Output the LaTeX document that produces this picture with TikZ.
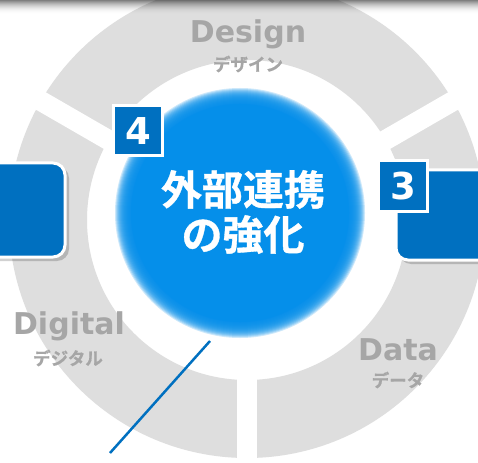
\documentclass[tikz,border=0pt]{standalone}
\usepackage{fontspec}
\setmainfont{DejaVu Sans}
\newfontfamily\cjk{Noto Sans CJK JP}[BoldFont={Noto Sans CJK JP Bold}, BoldFeatures={FakeBold=0.8}]
\definecolor{ringgray}{HTML}{DEDEDE}
\definecolor{txtgray}{HTML}{A6A6A6}
\definecolor{boxblue}{HTML}{0070C0}
\definecolor{circblue}{HTML}{058FEA}
\tikzset{
  gapline/.style={white, line width=20pt},
  bigbox/.style={fill=boxblue, draw=white, line width=3pt, rounded corners=12pt},
  boxshadow/.style={fill=black, opacity=0.18, rounded corners=12pt},
  badge/.style={fill=boxblue, draw=white, line width=3pt, minimum width=49pt, minimum height=50pt, inner sep=0pt, text=white, font=\bfseries\fontsize{37}{37}\selectfont},
  ringtitle/.style={text=txtgray, font=\bfseries\fontsize{30}{30}\selectfont, inner sep=0pt},
  ringsub/.style={text=txtgray, font=\cjk\bfseries\fontsize{17.5}{17.5}\selectfont, inner sep=0pt},
  centertext/.style={text=white, font=\cjk\bfseries\fontsize{41}{45}\selectfont, align=center, inner sep=0pt},
  linkline/.style={draw=boxblue, line width=2.5pt}
}
\begin{document}
\begin{tikzpicture}[x=1pt,y=-1pt]
\useasboundingbox (0,0) rectangle (478,462);
\clip (0,0) rectangle (478,462);
\fill[white] (0,0) rectangle (478,462);
\coordinate (c) at (247,220);
% ring
\fill[ringgray, even odd rule] (c) circle[radius=238] (c) circle[radius=160];
\draw[gapline] (c) ++(-30:150) -- ++(-30:100);
\draw[gapline] (c) ++(210:150) -- ++(210:100);
\draw[gapline] (c) ++(90:150) -- ++(90:100);
% blurred blue circle
\coordinate (cc) at (240,213);
\foreach \r in {110,...,125} {\fill[circblue, opacity=0.2] (cc) circle[radius=\r];}
\fill[circblue] (cc) circle[radius=109];
% top shadow band
\foreach \i in {0,...,13} {
  \pgfmathsetmacro{\op}{0.5*(1-\i/14)^2}
  \fill[black, opacity=\op] (0,\i) rectangle (478,\i+1);
}
% left box
\fill[boxshadow] (-20,166) rectangle (69,261);
\path[bigbox] (-20,163) rectangle (65,257);
% right box
\fill[boxshadow] (399,173) rectangle (500,264);
\path[bigbox] (396,170) rectangle (500,260);
% badges
\node[badge] (b4) at (138,131) {4};
\node[badge] (b3) at (403,186) {3};
% labels
\node[ringtitle] (design) at (248,34) {Design};
\node[ringsub] (designj) at (248,64) {デザイン};
\node[ringtitle] (digital) at (69,326) {Digital};
\node[ringsub] (digitalj) at (68,358) {デジタル};
\node[ringtitle] (data) at (398,350) {Data};
\node[ringsub] (dataj) at (398,380) {データ};
\node[centertext] (center) at (243,212) {外部連携\\の強化};
% line
\coordinate (l1) at (210,341);
\coordinate (l2) at (110,453);
\draw[linkline] (l1) -- (l2);
\end{tikzpicture}
\end{document}
